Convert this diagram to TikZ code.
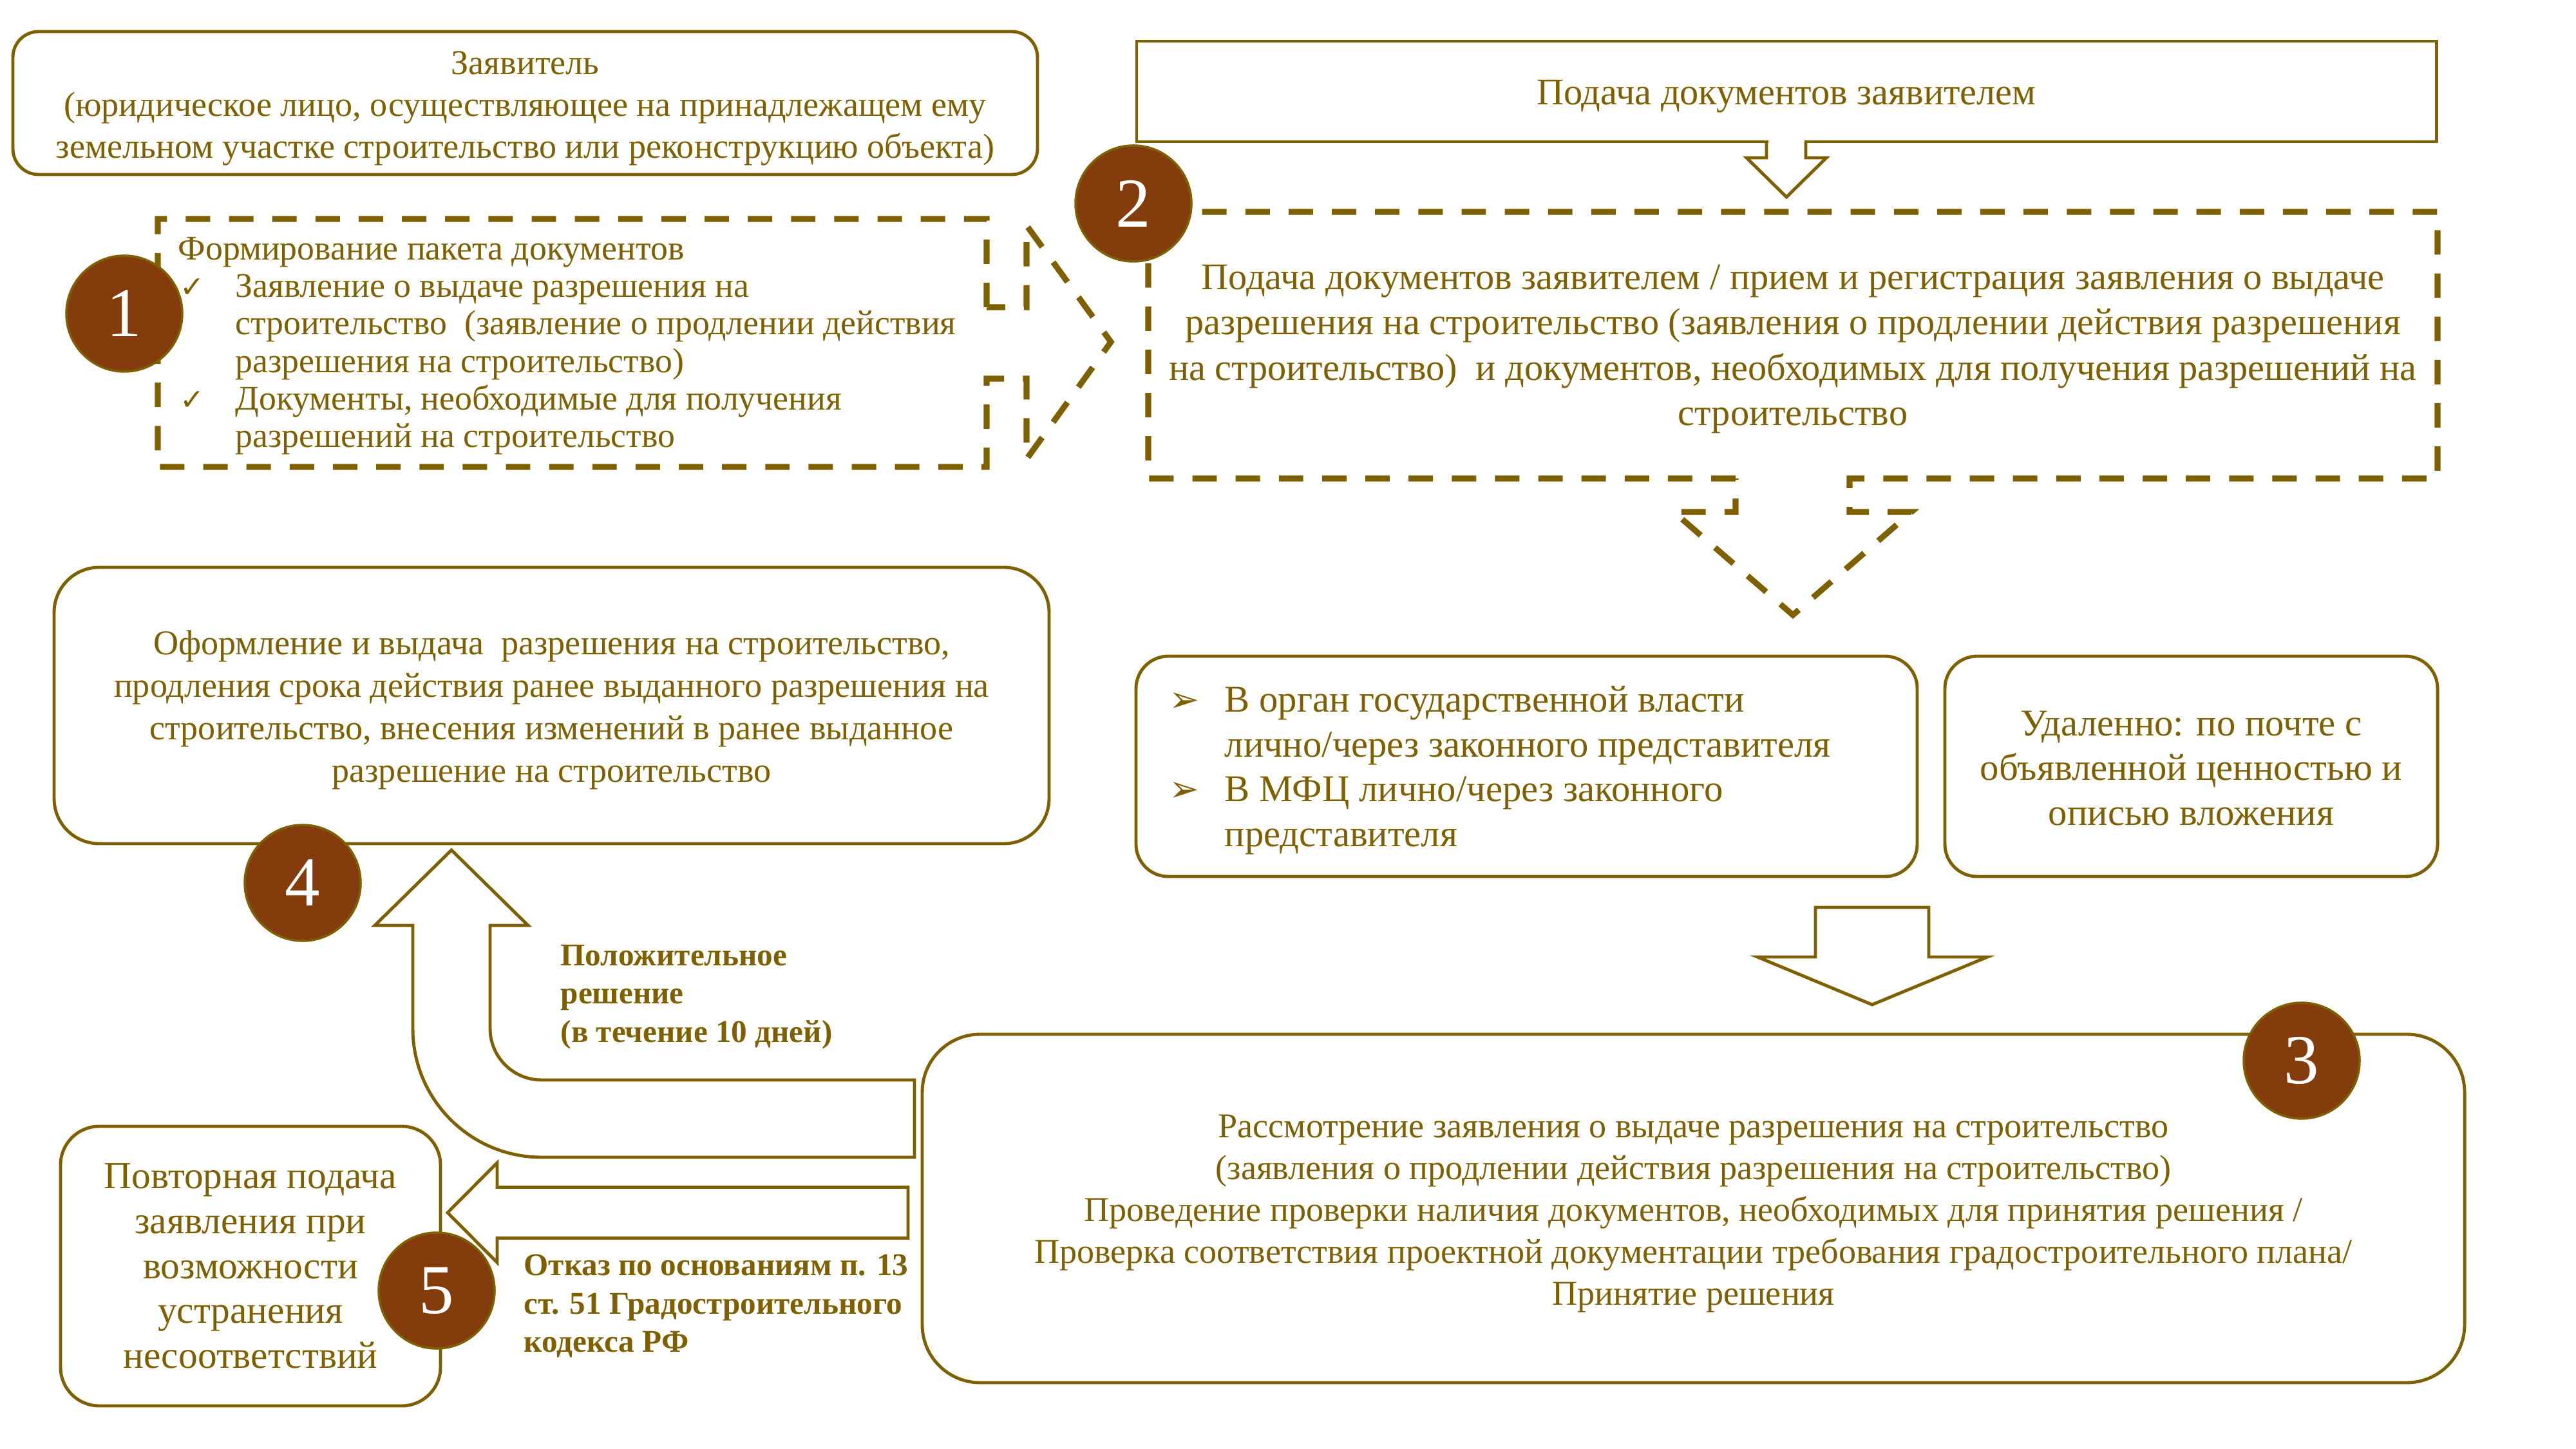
\documentclass[tikz,border=0pt]{standalone}
\usepackage{fontspec}
\setmainfont{Liberation Serif}
\newfontfamily\symfont{DejaVu Sans}
\definecolor{oliveline}{RGB}{127,96,0}
\definecolor{brownfill}{RGB}{132,60,12}

\begin{document}
\begin{tikzpicture}[main_node/.style={draw=oliveline, line width=1.4pt, rounded corners=0.45cm, inner sep=0pt},
    num_node/.style={circle, fill=brownfill, draw=oliveline, line width=1pt, minimum size=1.8cm, inner sep=0pt, text=white, font=\fontsize{31}{31}\selectfont},
    dash_line/.style={draw=oliveline, line width=2.6pt, dash pattern=on 10.8pt off 8.3pt},
    arrow_line/.style={draw=oliveline, line width=1.4pt, line join=miter},
    text_node/.style={text=oliveline, align=center, inner sep=0pt}]
\useasboundingbox (0,0) rectangle (40,-22.5);
	\node[main_node, rounded corners=0.4cm, minimum width=15.91cm, minimum height=2.22cm] (b1) at (8.155,-1.6) {};
    \node[text_node, font=\fontsize{15.4}{18.5}\selectfont] (t1) at ([yshift=-0.08cm]b1.center) {Заявитель\\(юридическое лицо, осуществляющее на принадлежащем ему\\земельном участке строительство или реконструкцию объекта)};
    \node[main_node, rounded corners=0pt, minimum width=20.18cm, minimum height=1.56cm] (b2) at (27.74,-1.42) {};
    \node[text_node, font=\fontsize{16.6}{19}\selectfont] (t2) at ([yshift=-0.08cm]b2.center) {Подача документов заявителем};
    \node[text_node, font=\fontsize{16.6}{20}\selectfont] (t3) at (27.84,-5.42) {Подача документов заявителем / прием и регистрация заявления о выдаче\\разрешения на строительство (заявления о продлении действия разрешения\\на строительство)\ \ и документов, необходимых для получения разрешений на\\строительство};
    \node[text_node, align=left, anchor=west, font=\fontsize{15.3}{16.6}\selectfont] (t4) at (2.76,-5.37) {Формирование пакета документов\\\makebox[0.89cm][l]{\hspace{0.03cm}\symfont\fontsize{13}{13}\selectfont ✓}Заявление о выдаче разрешения на\\\hspace*{0.89cm}строительство\ \ (заявление о продлении действия\\\hspace*{0.89cm}разрешения на строительство)\\\makebox[0.89cm][l]{\hspace{0.03cm}\symfont\fontsize{13}{13}\selectfont ✓}Документы, необходимые для получения\\\hspace*{0.89cm}разрешений на строительство};
    \node[main_node, rounded corners=0.7cm, minimum width=15.45cm, minimum height=4.29cm] (b5) at (8.565,-10.955) {};
    \node[text_node, font=\fontsize{15.4}{18.8}\selectfont] (t5) at ([yshift=-0.07cm]b5.center) {Оформление и выдача\ \ разрешения на строительство,\\продления срока действия ранее выданного разрешения на\\строительство, внесения изменений в ранее выданное\\разрешение на строительство};
    \node[main_node, rounded corners=0.5cm, minimum width=12.13cm, minimum height=3.42cm] (b6) at (23.705,-11.9) {};
    \node[text_node, align=left, anchor=west, font=\fontsize{16.7}{19.8}\selectfont] (t6) at (18.15,-11.96) {\makebox[0.86cm][l]{\symfont\fontsize{16}{16}\selectfont ➢}В орган государственной власти\\\hspace*{0.86cm}лично/через законного представителя\\\makebox[0.86cm][l]{\symfont\fontsize{16}{16}\selectfont ➢}В МФЦ лично/через законного\\\hspace*{0.86cm}представителя};
    \node[main_node, rounded corners=0.5cm, minimum width=7.65cm, minimum height=3.42cm] (b7) at (34.025,-11.9) {};
    \node[text_node, font=\fontsize{16.7}{19.8}\selectfont] (t7) at ([yshift=-0.03cm]b7.center) {Удаленно: по почте с\\объявленной ценностью и\\описью вложения};
    \node[main_node, rounded corners=0.9cm, minimum width=23.95cm, minimum height=5.41cm] (b8) at (26.295,-18.765) {};
    \node[text_node, font=\fontsize{15.4}{18.5}\selectfont] (t8) at ([yshift=-0.08cm]b8.center) {Рассмотрение заявления о выдаче разрешения на строительство\\(заявления о продлении действия разрешения на строительство)\\Проведение проверки наличия документов, необходимых для принятия решения /\\Проверка соответствия проектной документации требования градостроительного плана/\\Принятие решения};
    \node[main_node, rounded corners=0.6cm, minimum width=5.9cm, minimum height=4.34cm] (b9) at (3.89,-19.66) {};
    \node[text_node, font=\fontsize{16.9}{19.8}\selectfont] (t9) at (b9.center) {Повторная подача\\заявления при\\возможности\\устранения\\несоответствий};
    \node[text_node, align=left, anchor=west, font=\bfseries\fontsize{14}{17}\selectfont] (l1) at (8.7,-15.48) {Положительное\\решение\\(в течение 10 дней)};
    \node[text_node, align=left, anchor=west, font=\bfseries\fontsize{14}{17}\selectfont] (l2) at (8.13,-20.28) {Отказ по основаниям п. 13\\ст. 51 Градостроительного\\кодекса РФ};
\fill[white] (27.455,-2.15) rectangle (28.015,-2.25);
\draw[arrow_line] (27.43,-2.2) -- (27.43,-2.45) -- (27.12,-2.45) -- (27.74,-3.06) -- (28.36,-2.45) -- (28.04,-2.45) -- (28.04,-2.2);
\draw[dash_line] (26.95,-7.43) -- (17.83,-7.43) -- (17.83,-3.29) -- (37.85,-3.29) -- (37.85,-7.43) -- (28.72,-7.43) -- (28.72,-7.95) -- (29.68,-7.95) -- (27.84,-9.55) -- (25.99,-7.95) -- (26.95,-7.95) -- cycle;
\draw[dash_line] (15.32,-4.77) -- (15.32,-3.4) -- (2.45,-3.4) -- (2.45,-7.25) -- (15.32,-7.25) -- (15.32,-5.88) -- (15.94,-5.88) -- (15.94,-7.13) -- (17.25,-5.31) -- (15.94,-3.5) -- (15.94,-4.77) -- cycle;
\draw[arrow_line, fill=white] (28.19,-14.09) -- (29.95,-14.09) -- (29.95,-14.86) -- (30.86,-14.86) -- (29.07,-15.6) -- (27.29,-14.86) -- (28.19,-14.86) -- cycle;
\draw[arrow_line, fill=white] (14.2,-16.77) -- (8.41,-16.77) arc (270:180:0.8) -- (7.61,-14.37) -- (8.2,-14.37) -- (7.01,-13.2) -- (5.82,-14.37) -- (6.41,-14.37) -- (6.41,-15.97) arc (180:270:2) -- (14.2,-17.97) -- cycle;
\draw[arrow_line, fill=white] (14.1,-18.435) -- (7.72,-18.435) -- (7.72,-18.055) -- (6.95,-18.83) -- (7.72,-19.605) -- (7.72,-19.225) -- (14.1,-19.225) -- cycle;
    \node[num_node] (c1) at (1.93,-4.87) {1};
    \node[num_node] (c2) at (17.6,-3.16) {2};
    \node[num_node] (c3) at (35.74,-16.47) {3};
    \node[num_node] (c4) at (4.7,-13.71) {4};
    \node[num_node] (c5) at (6.78,-20.04) {5};
\end{tikzpicture}
\end{document}
